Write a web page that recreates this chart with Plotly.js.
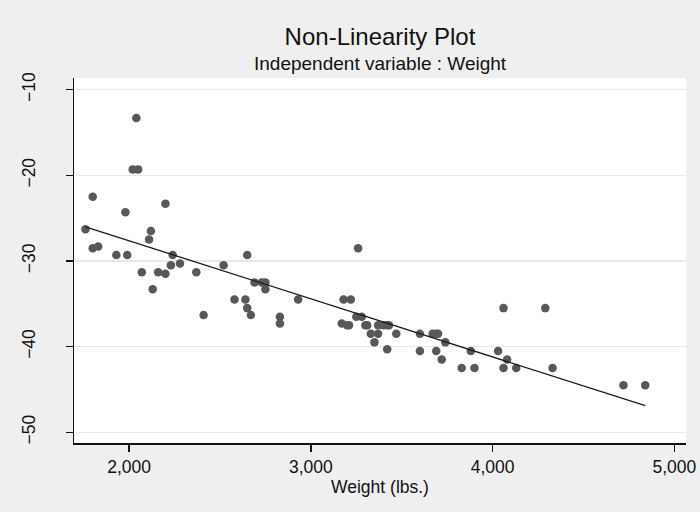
<!DOCTYPE html>
<html>
<head>
<meta charset="utf-8">
<script src="https://cdn.plot.ly/plotly-3.0.1.min.js"></script>
<style>
html,body{margin:0;padding:0;background:#efefef;}
#chart{width:700px;height:512px;}
</style>
</head>
<body>
<div id="chart"></div>
<script>
// Weight (lbs.) of each car
var weight = [
  2930, 3350, 2640, 3250, 4080, 3670, 2230, 3280, 3880, 3400,
  4330, 3900, 4290, 2110, 3690, 3180, 3220, 2750, 3430, 2120,
  3600, 3600, 3740, 1800, 2650, 4840, 4720, 3830, 2580, 4060,
  3720, 3370, 4130, 2830, 4060, 3310, 3300, 3690, 3370, 2730,
  4030, 3260, 1800, 2200, 2520, 3330, 3700, 3470, 3210, 3200,
  3420, 2690,
  2830, 2070, 2650, 2370, 2020, 2280, 2750, 2130, 2240, 1760,
  1980, 3420, 1830, 2050, 2410, 2200, 2670, 2160, 2040, 1930,
  1990, 3170
];
// Plotted value for each car
var yValue = [
  -34.5, -39.5, -34.5, -36.5, -41.5, -38.5, -30.5, -36.5, -40.5, -37.5,
  -42.5, -42.5, -35.5, -27.5, -40.5, -34.5, -34.5, -32.5, -37.5, -26.5,
  -38.5, -40.5, -39.5, -28.5, -35.5, -44.5, -44.5, -42.5, -34.5, -42.5,
  -41.5, -38.5, -42.5, -36.5, -35.5, -37.5, -37.5, -38.5, -37.5, -32.5,
  -40.5, -28.5, -22.5, -31.5, -30.5, -38.5, -38.5, -38.5, -37.5, -37.5,
  -37.5, -32.5,
  -37.3, -31.3, -29.3, -31.3, -19.3, -30.3, -33.3, -33.3, -29.3, -26.3,
  -24.3, -40.3, -28.3, -19.3, -36.3, -23.3, -36.3, -31.3, -13.3, -29.3,
  -29.3, -37.3
];
var xTicks = [2000, 3000, 4000, 5000];
var yTicks = [-50, -40, -30, -20, -10];
var titleText = "Non-Linearity Plot";
var subtitleText = "Independent variable : Weight";
var xTitle = "Weight (lbs.)";

// Least-squares fit line over the data range
var n = weight.length, sx = 0, sy = 0, sxx = 0, sxy = 0;
for (var i = 0; i < n; i++) { sx += weight[i]; sy += yValue[i]; sxx += weight[i]*weight[i]; sxy += weight[i]*yValue[i]; }
var slope = (n*sxy - sx*sy) / (n*sxx - sx*sx);
var intercept = (sy - slope*sx) / n;
var xmin = Math.min.apply(null, weight), xmax = Math.max.apply(null, weight);
var fitX = [xmin, xmax];
var fitY = fitX.map(function(v){ return intercept + slope*v; });

var font = "Liberation Sans, Arial, Helvetica, sans-serif";

var traces = [
  {
    x: weight, y: yValue, type: 'scatter', mode: 'markers',
    marker: {color: '#585858', size: 8.5, line: {width: 0}},
    showlegend: false, hoverinfo: 'x+y'
  },
  {
    x: fitX, y: fitY, type: 'scatter', mode: 'lines',
    line: {color: '#1a1a1a', width: 1.3},
    showlegend: false, hoverinfo: 'skip'
  }
];

var layout = {
  width: 700, height: 512,
  paper_bgcolor: '#efefef', plot_bgcolor: '#ffffff',
  margin: {l: 74, r: 14, t: 78, b: 69, pad: 0},
  font: {family: font, color: '#111', size: 17.5},
  title: {
    text: titleText,
    x: 0.5, xref: 'paper', xanchor: 'center',
    y: 1 - 37/512, yref: 'container', yanchor: 'middle',
    font: {family: font, size: 24, color: '#111'}
  },
  annotations: [{
    text: subtitleText, showarrow: false,
    xref: 'paper', x: 0.5, xanchor: 'center',
    yref: 'paper', y: (443 - 63) / 365, yanchor: 'middle',
    font: {family: font, size: 19, color: '#111'}
  }],
  xaxis: {
    range: [1697, 5064],
    tickvals: xTicks, tickformat: ',d',
    ticks: 'outside', ticklen: 7, tickwidth: 1.5, tickcolor: '#111',
    showline: true, linecolor: '#111', linewidth: 1.5, mirror: false,
    showgrid: false, zeroline: false,
    tickfont: {family: font, size: 17.5, color: '#111'},
    title: {text: xTitle, font: {family: font, size: 17.5, color: '#111'}, standoff: 0}
  },
  yaxis: {
    range: [-51.25, -8.63],
    tickvals: yTicks, tickangle: -90,
    ticks: 'outside', ticklen: 7, tickwidth: 1.5, tickcolor: '#111',
    showline: true, linecolor: '#111', linewidth: 1.5, mirror: false,
    showgrid: true, gridcolor: '#e8e8e8', gridwidth: 1.5, zeroline: false,
    ticklabelstandoff: 24,
    tickfont: {family: font, size: 17.5, color: '#111'}
  }
};

Plotly.newPlot('chart', traces, layout, {displayModeBar: false, staticPlot: true});
</script>
</body>
</html>
